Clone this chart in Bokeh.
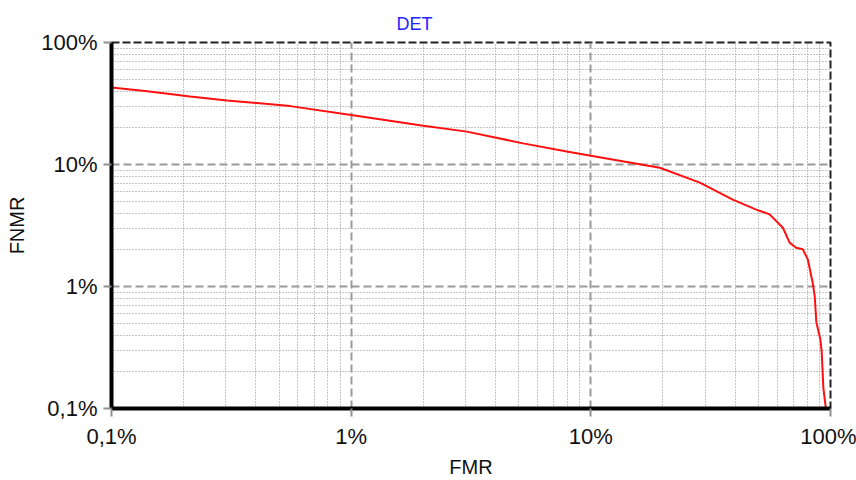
from bokeh.plotting import figure
from bokeh.models import Range1d, FixedTicker, CustomJSTickFormatter
from bokeh.embed import file_html
from bokeh.resources import INLINE

# Data (percent)
fmr = [0.1, 0.141, 0.213, 0.303, 0.557, 1.0, 2.0, 3.04, 5.22, 7.93, 10.0,
       19.4, 28.5, 39.1, 49.0, 55.7, 63.3, 67.5, 71.9, 76.6, 80.4, 84.2,
       85.9, 87.3, 90.7, 91.9, 93.4, 95.5, 96.0]
fnmr = [42.7, 39.9, 36.1, 33.5, 30.1, 25.4, 20.8, 18.6, 14.9, 12.8, 11.8,
        9.4, 7.1, 5.15, 4.27, 3.9, 3.03, 2.29, 2.08, 2.02, 1.67, 1.08,
        0.84, 0.51, 0.37, 0.29, 0.146, 0.103, 0.1]

major_ticks = [0.1, 1, 10, 100]
minor_ticks = [m * d for d in (0.1, 1, 10) for m in range(2, 10)]

FONT = "Liberation Sans"
TITLE = "DET"

p = figure(width=856, height=480, x_axis_type="log", y_axis_type="log",
           x_range=Range1d(0.1, 100), y_range=Range1d(0.1, 100),
           output_backend="svg", toolbar_location=None,
           min_border_left=111, min_border_right=26,
           min_border_top=42, min_border_bottom=70,
           x_axis_label="FMR", y_axis_label="FNMR", title=TITLE)

p.title.text_color = "#2424ff"
p.title.text_font = FONT
p.title.text_font_size = "18px"
p.title.text_font_style = "normal"
p.title.align = "left"
p.title.offset = 285
p.title.standoff = 18

fmt = CustomJSTickFormatter(code="""
return (tick < 0.99 ? tick.toFixed(1).replace('.', ',') : tick.toFixed(0)) + '%';
""")

for ax in (p.xaxis[0], p.yaxis[0]):
    ax.ticker = FixedTicker(ticks=major_ticks, minor_ticks=minor_ticks)
    ax.formatter = fmt
    ax.axis_line_color = "black"
    ax.axis_line_width = 4
    ax.major_tick_out = 8
    ax.major_tick_in = 0
    ax.major_tick_line_color = "#909090"
    ax.major_tick_line_width = 2
    ax.minor_tick_out = 0
    ax.minor_tick_in = 0
    ax.major_label_text_font = FONT
    ax.major_label_text_font_size = "22px"
    ax.major_label_text_color = "#111111"
    ax.axis_label_text_font = FONT
    ax.axis_label_text_font_size = "20px"
    ax.axis_label_text_font_style = "normal"
    ax.axis_label_text_color = "#111111"

p.xaxis.major_label_standoff = 7
p.xaxis.axis_label_standoff = 4
p.yaxis.major_label_standoff = 6
p.yaxis.axis_label_standoff = 10

for g in (p.xgrid[0], p.ygrid[0]):
    g.ticker = FixedTicker(ticks=major_ticks, minor_ticks=minor_ticks)
    g.grid_line_color = "#9a9a9a"
    g.grid_line_width = 2
    g.grid_line_dash = "8 4"
    g.minor_grid_line_color = "#8c8c8c"
    g.minor_grid_line_width = 1
    g.minor_grid_line_dash = "1 2"

p.outline_line_color = "#222222"
p.outline_line_width = 2
p.outline_line_dash = "8 3"
p.background_fill_color = "white"
p.border_fill_color = "white"

p.line(fmr, fnmr, line_color="#ff1010", line_width=2)

open("out.html", "w").write(file_html(p, INLINE))
